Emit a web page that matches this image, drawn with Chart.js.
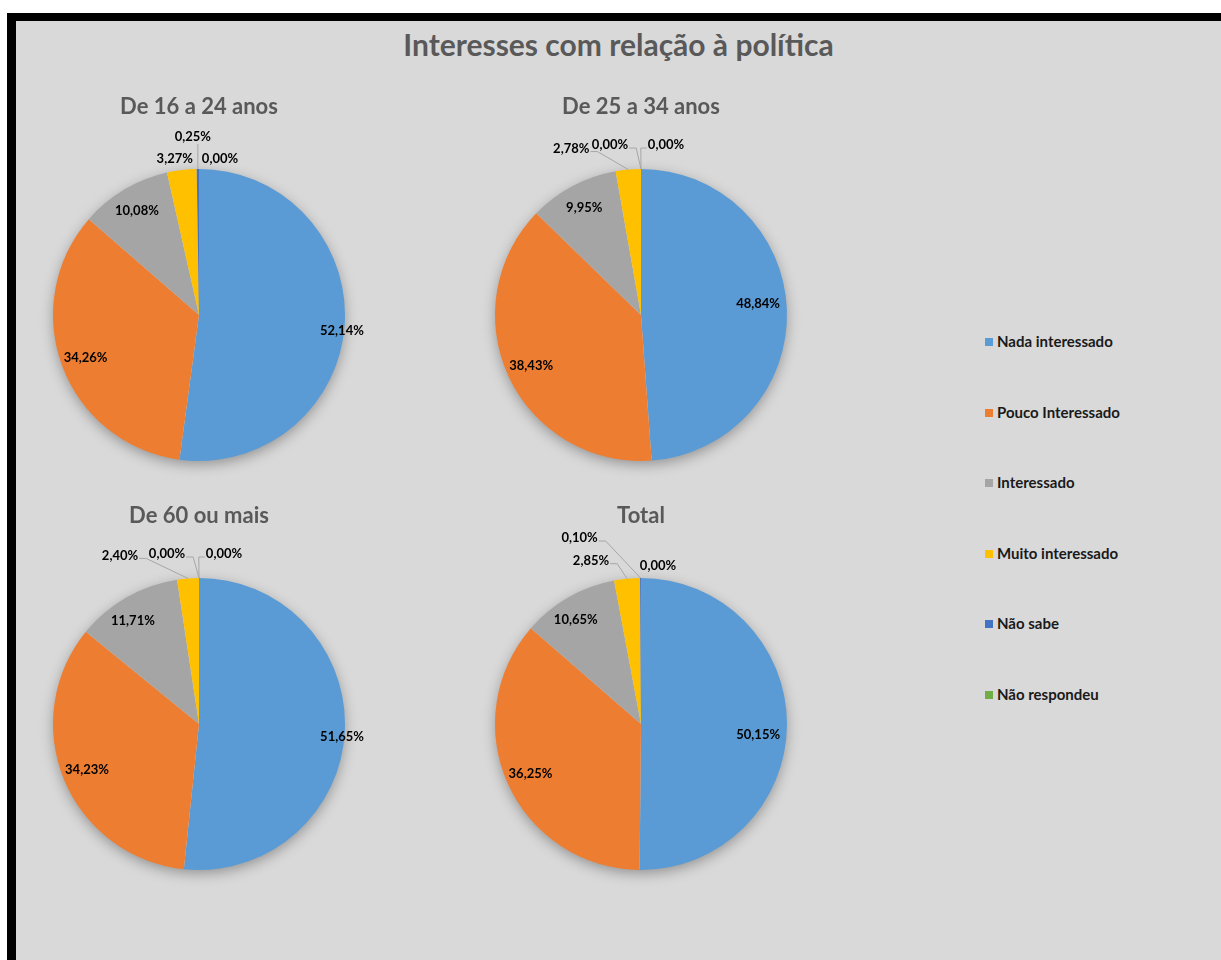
<!DOCTYPE html>
<html>
<head>
<meta charset="utf-8">
<script src="https://cdn.jsdelivr.net/npm/chart.js@4/dist/chart.umd.min.js"></script>
<style>
  html, body { margin: 0; padding: 0; background: #fff; }
  body { width: 1221px; height: 960px; position: relative; overflow: hidden; font-family: Lato, "Open Sans", sans-serif; }
  #frame {
    position: absolute; left: 7px; top: 13px; width: 1214px; height: 947px;
    border-left: 9px solid #000; border-top: 8px solid #000; background: #d9d9d9;
  }
  #title {
    position: absolute; left: 16px; right: 0; top: 26px; text-align: center;
    font: bold 30px Lato; color: #595959;
  }
  .pie { position: absolute; }
  #legend { position: absolute; left: 985px; top: 0; }
  .item { position: absolute; left: 0; white-space: nowrap; font: bold 15px Lato; color: #1a1a1a; }
  .item span.box { display: inline-block; width: 8px; height: 8px; margin-right: 4px; vertical-align: 1px; }
</style>
</head>
<body>
<div id="frame"></div>
<div id="title">Interesses com relação à política</div>
<canvas id="c0" class="pie"></canvas>
<canvas id="c1" class="pie"></canvas>
<canvas id="c2" class="pie"></canvas>
<canvas id="c3" class="pie"></canvas>
<div id="legend"></div>

<script>
// categories and values
var categories = ['Nada interessado', 'Pouco Interessado', 'Interessado', 'Muito interessado', 'Não sabe', 'Não respondeu'];
var groups = ['De 16 a 24 anos', 'De 25 a 34 anos', 'De 60 ou mais', 'Total'];
var age16to24 = [52.14, 34.26, 10.08, 3.27, 0.25, 0.00];
var age25to34 = [48.84, 38.43, 9.95, 2.78, 0.00, 0.00];
var age60plus = [51.65, 34.23, 11.71, 2.40, 0.00, 0.00];
var total = [50.15, 36.25, 10.65, 2.85, 0.10, 0.00];
var seriesList = [age16to24, age25to34, age60plus, total];

var colors = ['#5b9bd5', '#ed7d31', '#a5a5a5', '#ffc000', '#4472c4', '#70ad47'];

// where the small slices put their labels (offset from the slice's outer edge)
var outsideLabels = [
    { 3: { dx: -7, dy: -11 }, 4: { dx: -5, dy: -32, line: 'below' }, 5: { dx: 21, dy: -10 } },
    { 3: { dx: -57, dy: -21, line: 'side' }, 4: { dx: -31, dy: -24, line: 'side' }, 5: { dx: 25, dy: -24, line: 'side' } },
    { 3: { dx: -68, dy: -23, line: 'side' }, 4: { dx: -32, dy: -24, line: 'side' }, 5: { dx: 25, dy: -24, line: 'side' } },
    { 3: { dx: -36, dy: -18, line: 'side' }, 4: { dx: -61, dy: -40, line: 'side' }, 5: { dx: 17, dy: -12 } }
];
// small nudges of inside labels (Excel "best fit")
var insideNudge = [
    { 0: { dx: 22, dy: 8 } },
    { 0: { dx: -4, dy: -7 } },
    { 0: { dx: 22, dy: 7 }, 2: { dx: -6, dy: 2 } },
    { 0: { dx: -4, dy: 10 }, 2: { dx: -5, dy: 1 } }
];

// pie centers on the page
var centers = [[199, 315], [641, 315], [199, 724], [641, 724]];
var radius = 146;

function fmt(v) {
    return v.toFixed(2).replace('.', ',') + '%';
}

// soft shadow under the whole pie
var shadowPlugin = {
    id: 'pieShadow',
    beforeDatasetsDraw: function (chart) {
        var arc = chart.getDatasetMeta(0).data[0];
        if (!arc) return;
        var ctx = chart.ctx;
        ctx.save();
        ctx.shadowColor = 'rgba(0,0,0,0.35)';
        ctx.shadowBlur = 14;
        ctx.shadowOffsetY = 4;
        ctx.fillStyle = '#d9d9d9';
        ctx.beginPath();
        ctx.arc(arc.x, arc.y, arc.outerRadius - 1, 0, Math.PI * 2);
        ctx.fill();
        ctx.restore();
    }
};

var labelPlugin = {
    id: 'sliceLabels',
    afterDatasetsDraw: function (chart, args, opts) {
        var ctx = chart.ctx;
        var meta = chart.getDatasetMeta(0);
        var values = chart.data.datasets[0].data;
        var outside = opts.outside || {};
        var nudge = opts.nudge || {};
        ctx.save();
        ctx.font = 'bold 13px Lato';
        ctx.fillStyle = '#000';
        ctx.textAlign = 'center';
        ctx.textBaseline = 'middle';
        ctx.strokeStyle = '#a6a6a6';
        ctx.lineWidth = 1;
        meta.data.forEach(function (arc, i) {
            var p = arc.getProps(['x', 'y', 'startAngle', 'endAngle', 'outerRadius'], true);
            var mid = (p.startAngle + p.endAngle) / 2;
            var text = fmt(values[i]);
            var o = outside[i];
            if (!o) {
                var d = p.outerRadius * 0.83;
                var n = nudge[i] || { dx: 0, dy: 0 };
                ctx.fillText(text, p.x + Math.cos(mid) * d + n.dx, p.y + Math.sin(mid) * d + n.dy);
                return;
            }
            var ex = p.x + Math.cos(mid) * p.outerRadius;
            var ey = p.y + Math.sin(mid) * p.outerRadius;
            var lx = ex + o.dx, ly = ey + o.dy;
            var hw = ctx.measureText(text).width / 2;
            if (o.line === 'below') {
                ctx.beginPath();
                ctx.moveTo(ex, ey);
                ctx.lineTo(ex, ly + 7);
                ctx.stroke();
            } else if (o.line === 'side') {
                var sx = o.dx < 0 ? lx + hw + 1 : lx - hw - 1;
                var kx = o.dx < 0 ? sx + 7 : sx - 6;
                ctx.beginPath();
                ctx.moveTo(sx, ly + 3);
                ctx.lineTo(kx, ly + 3);
                ctx.lineTo(ex, ey);
                ctx.stroke();
            }
            ctx.fillText(text, lx, ly);
        });
        ctx.restore();
    }
};

var W = 380, H = 385, titleH = 26, gap = 49;
seriesList.forEach(function (series, k) {
    var cv = document.getElementById('c' + k);
    cv.style.left = (centers[k][0] - W / 2) + 'px';
    cv.style.top = (centers[k][1] - radius - gap - titleH) + 'px';
    cv.style.width = W + 'px';
    cv.style.height = H + 'px';
    cv.width = W;
    cv.height = H;
    new Chart(cv.getContext('2d'), {
        type: 'pie',
        data: {
            labels: categories,
            datasets: [{
                data: series,
                backgroundColor: colors,
                borderWidth: 0,
                hoverOffset: 0
            }]
        },
        options: {
            responsive: false,
            animation: false,
            events: [],
            layout: { padding: { top: 0, bottom: H - titleH - gap - 2 * radius, left: (W - 2 * radius) / 2, right: (W - 2 * radius) / 2 } },
            plugins: {
                legend: { display: false },
                tooltip: { enabled: false },
                title: {
                    display: true,
                    text: groups[k],
                    color: '#595959',
                    font: { family: 'Lato', size: 22, weight: 'bold', lineHeight: 26 / 22 },
                    padding: { top: 0, bottom: gap }
                },
                sliceLabels: { outside: outsideLabels[k], nudge: insideNudge[k] }
            }
        },
        plugins: [shadowPlugin, labelPlugin]
    });
});

// legend on the right
var legend = document.getElementById('legend');
var legendTop = 342, legendStep = 70.6;
categories.forEach(function (name, i) {
    var div = document.createElement('div');
    div.className = 'item';
    div.style.top = (legendTop + i * legendStep - 10) + 'px';
    div.innerHTML = '<span class="box" style="background:' + colors[i] + '"></span>' + name;
    legend.appendChild(div);
});
</script>
</body>
</html>
